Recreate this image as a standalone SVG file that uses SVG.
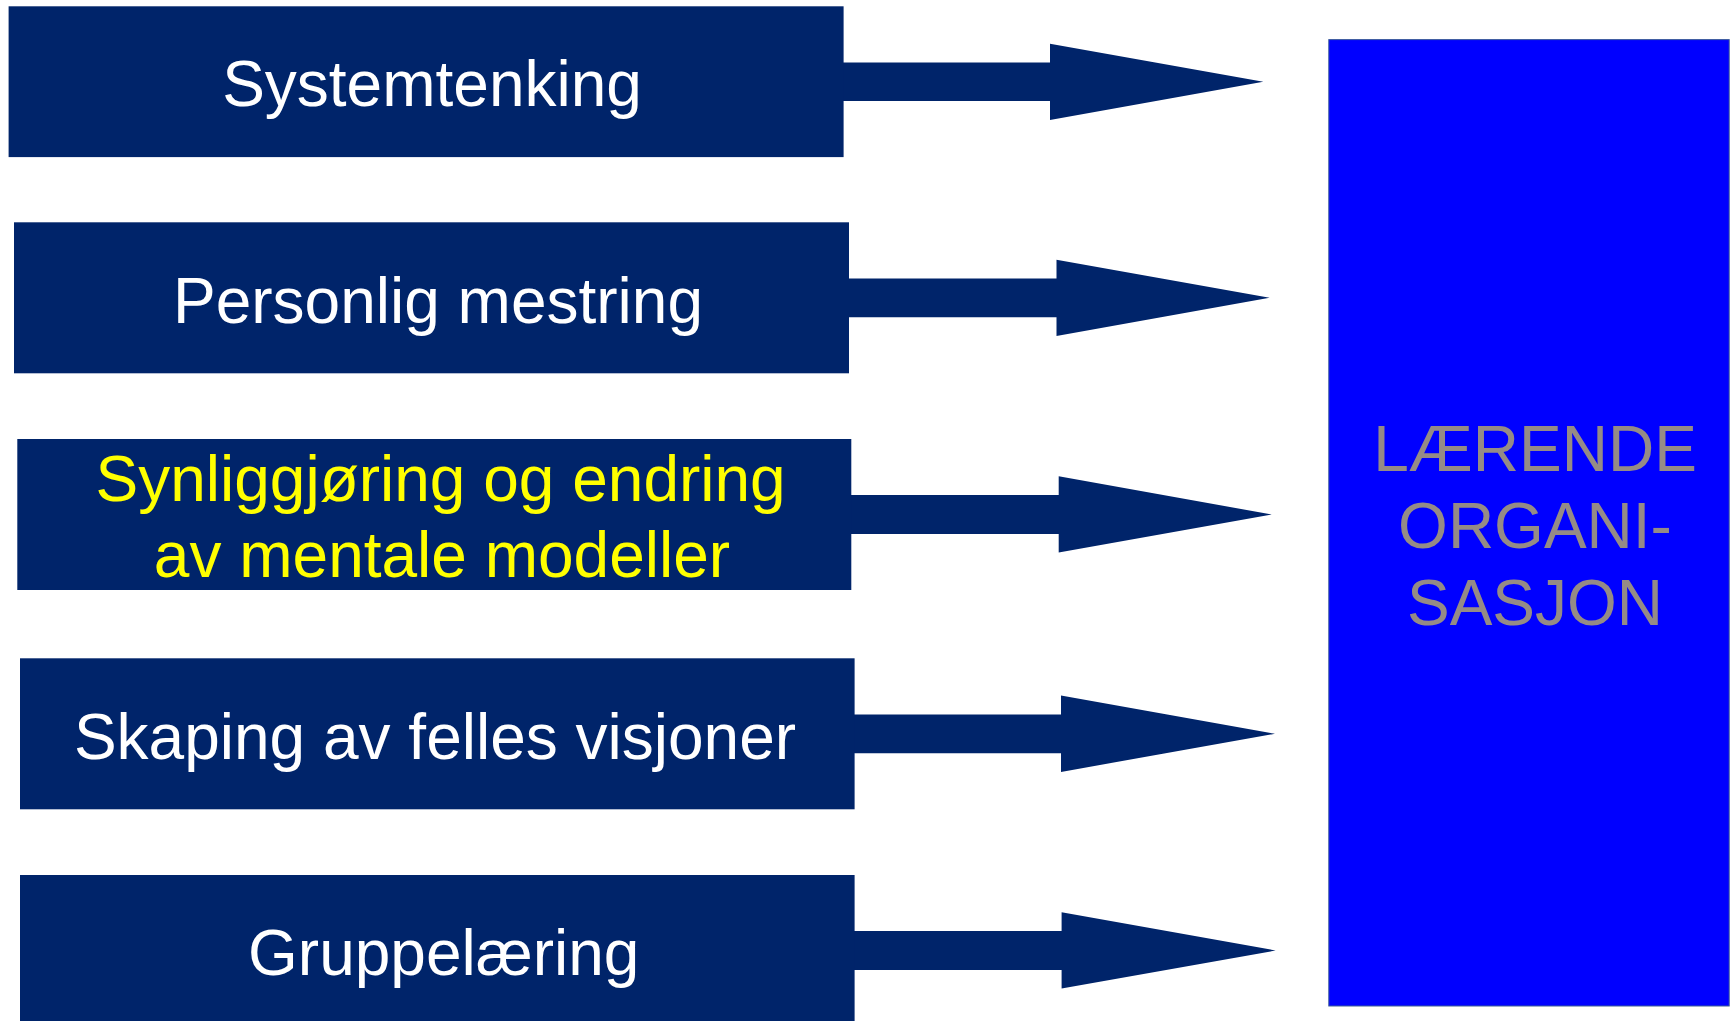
<svg xmlns="http://www.w3.org/2000/svg" width="1731" height="1021" viewBox="0 0 1731 1021">
<style>
.box{fill:#00246A;}
.arr{fill:#00246A;}
.t{font-family:"Liberation Sans",Arial,sans-serif;font-size:64px;text-anchor:middle;}
.w{fill:#FFFFFF;}
.y{fill:#FFFF00;}
.g{fill:#958B86;}
</style>
<rect width="1731" height="1021" fill="#FFFFFF"/>
<g id="connectors">
<polygon class="arr" points="843,62.4 1050,62.4 1050,43.7 1263.3,81.8 1050,120 1050,101.1 843,101.1"/>
<polygon class="arr" points="848.5,278.5 1056.5,278.5 1056.5,259.7 1269.6,297.8 1056.5,336 1056.5,317.2 848.5,317.2"/>
<polygon class="arr" points="851,495.1 1058.7,495.1 1058.7,476.3 1271.8,514.5 1058.7,552.6 1058.7,533.9 851,533.9"/>
<polygon class="arr" points="854,714.4 1061,714.4 1061,695.6 1275,733.8 1061,771.9 1061,753.2 854,753.2"/>
<polygon class="arr" points="854,931 1061.6,931 1061.6,912.3 1275.6,950.5 1061.6,988.5 1061.6,970 854,970"/>
</g>
<g id="node-systemtenking">
<rect class="box" x="8.6" y="6.3" width="835" height="150.8"/>
<text class="t w" x="432" y="106">Systemtenking</text>
</g>
<g id="node-personlig-mestring">
<rect class="box" x="14" y="222.3" width="835" height="151"/>
<text class="t w" x="438" y="323.3">Personlig mestring</text>
</g>
<g id="node-mentale-modeller">
<rect class="box" x="17.3" y="439" width="834" height="151"/>
<text class="t y" x="440.6" y="501">Synliggjøring og endring</text>
<text class="t y" x="442" y="576.7">av mentale modeller</text>
</g>
<g id="node-felles-visjoner">
<rect class="box" x="20" y="658.3" width="834.6" height="151"/>
<text class="t w" x="435" y="759">Skaping av felles visjoner</text>
</g>
<g id="node-gruppelaering">
<rect class="box" x="20" y="875" width="834.6" height="151"/>
<text class="t w" x="443.7" y="975">Gruppelæring</text>
</g>
<g id="node-laerende-organisasjon">
<rect x="1328.8" y="39.6" width="400.4" height="966.4" fill="#0000FF" stroke="#3A5A9A" stroke-width="1"/>
<text class="t g" x="1535" y="470.7">LÆRENDE</text>
<text class="t g" x="1535" y="547.7">ORGANI-</text>
<text class="t g" x="1535" y="625">SASJON</text>
</g>
</svg>
